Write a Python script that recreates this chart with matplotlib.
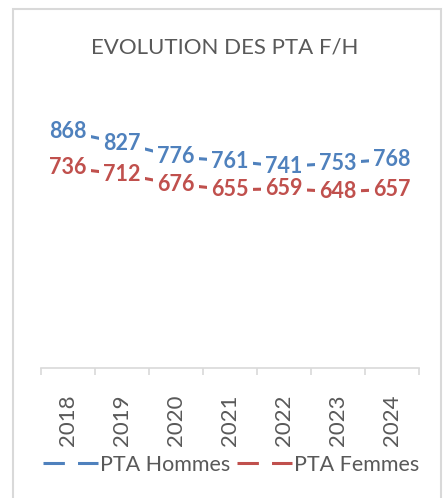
import matplotlib
matplotlib.use("Agg")
import matplotlib.pyplot as plt
from matplotlib.lines import Line2D
from matplotlib.patches import Rectangle

years = ["2018", "2019", "2020", "2021", "2022", "2023", "2024"]
hommes = [868, 827, 776, 761, 741, 753, 768]
femmes = [736, 712, 676, 655, 659, 648, 657]
series_names = ["PTA Hommes", "PTA Femmes"]

BLUE = "#4f81bd"
RED = "#c0504d"
GRAY = "#595959"
FONT = "Lato"

W, H = 443, 498
fig = plt.figure(figsize=(W / 100, H / 100), dpi=100)

# chart border
fig.patches.append(Rectangle((13 / W, -0.05), (441 - 13) / W, (H - 9) / H + 0.05,
                             transform=fig.transFigure, fill=False,
                             edgecolor="#d9d9d9", linewidth=1.5))

ax = fig.add_axes([41 / W, (H - 368) / H, (419 - 41) / W, 272 / H])
x = list(range(len(years)))
dashes = (7, 4.3)
lw = 2.2
for vals, col in [(hommes, BLUE), (femmes, RED)]:
    ax.plot(x, vals, color=col, lw=lw, solid_capstyle="butt", zorder=2)
    for xi, v in zip(x, vals):
        ax.text(xi, v, str(v), ha="center", va="center", color=col,
                fontsize=15.5, fontweight="bold", family=FONT, zorder=3,
                bbox=dict(boxstyle="square,pad=0.22", fc="white", ec="none"))

ax.set_xlim(-0.5, len(years) - 0.5)
ax.set_ylim(0, 1000)
for s in ["left", "right", "top"]:
    ax.spines[s].set_visible(False)
ax.spines["bottom"].set_color("#d9d9d9")
ax.spines["bottom"].set_linewidth(1.2)
ax.set_yticks([])
ax.set_xticks(x)
ax.set_xticklabels(years, rotation=90, fontsize=16, color=GRAY, family=FONT)
ax.tick_params(axis="x", which="major", length=0, pad=19)
ax.set_xticks([i - 0.5 for i in range(len(years) + 1)], minor=True)
ax.tick_params(axis="x", which="minor", length=5, color="#d9d9d9", width=1.2)

fig.text(225 / W, 1 - 47 / H, "EVOLUTION DES PTA F/H", ha="center", va="center",
         fontsize=16, color=GRAY, family=FONT)

handles = [Line2D([], [], color=BLUE, lw=lw, dashes=dashes),
           Line2D([], [], color=RED, lw=lw, dashes=dashes)]
leg = fig.legend(handles, series_names, loc="center", bbox_to_anchor=(231 / W, 1 - 465 / H),
                 ncol=2, frameon=False, handlelength=2.55, handletextpad=0.1,
                 columnspacing=0.3, prop={"family": FONT, "size": 15.5})
for t in leg.get_texts():
    t.set_color(GRAY)

fig.savefig("out.png", dpi=100)
